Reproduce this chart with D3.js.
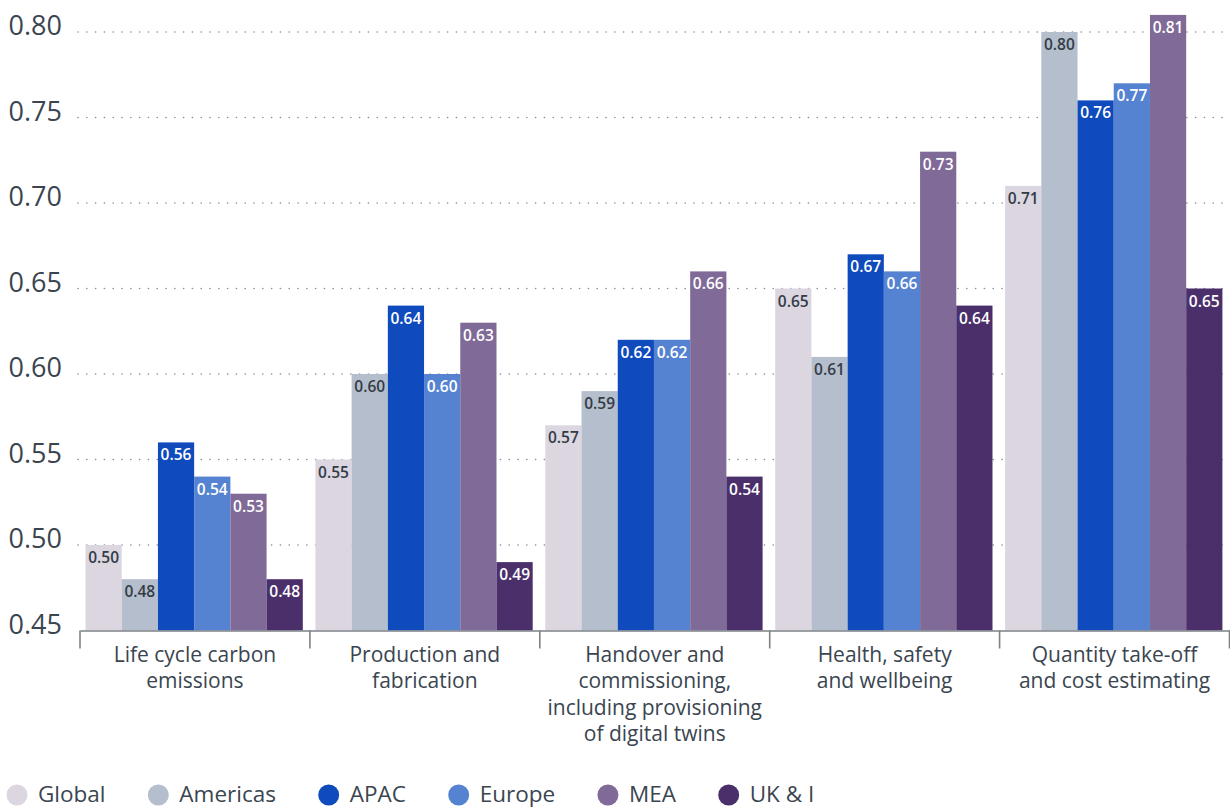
<!DOCTYPE html>
<html>
<head>
<meta charset="utf-8">
<script src="https://cdn.jsdelivr.net/npm/d3@7"></script>
<style>
  html, body { margin: 0; padding: 0; background: #ffffff; }
  svg { display: block; font-family: "Open Sans", "Noto Sans", sans-serif; }
</style>
</head>
<body>
<svg id="chart" width="1230" height="807"></svg>
<script>
// Categories (multi-line labels) and regional series
const categories = [
  ["Life cycle carbon", "emissions"],
  ["Production and", "fabrication"],
  ["Handover and", "commissioning,", "including provisioning", "of digital twins"],
  ["Health, safety", "and wellbeing"],
  ["Quantity take-off", "and cost estimating"]
];
const regions = ["Global", "Americas", "APAC", "Europe", "MEA", "UK & I"];
const globalVals   = [0.50, 0.55, 0.57, 0.65, 0.71];
const americasVals = [0.48, 0.60, 0.59, 0.61, 0.80];
const apacVals     = [0.56, 0.64, 0.62, 0.67, 0.76];
const europeVals   = [0.54, 0.60, 0.62, 0.66, 0.77];
const meaVals      = [0.53, 0.63, 0.66, 0.73, 0.81];
const ukiVals      = [0.48, 0.49, 0.54, 0.64, 0.65];
const yTicks = [0.45, 0.50, 0.55, 0.60, 0.65, 0.70, 0.75, 0.80];

const seriesValues = [globalVals, americasVals, apacVals, europeVals, meaVals, ukiVals];
const colors = ["#dcd6e1", "#b5becd", "#0f4bbd", "#5683d1", "#806b98", "#4b2f6a"];
const labelColors = ["#333c46", "#333c46", "#ffffff", "#ffffff", "#ffffff", "#ffffff"];
const textColor = "#3a4550";

const svg = d3.select("#chart");

const x0 = d3.scaleBand()
  .domain(d3.range(categories.length))
  .range([80, 1229.5])
  .padding(0);

const x1 = d3.scaleBand()
  .domain(d3.range(regions.length))
  .range([5.5, 222.8])
  .padding(0);

const y = d3.scaleLinear()
  .domain([0.45, 0.80])
  .range([630.5, 32]);

// Dotted gridlines
svg.append("g")
  .selectAll("line")
  .data(yTicks.slice(1))
  .join("line")
  .attr("x1", 78)
  .attr("x2", 1230)
  .attr("y1", d => y(d))
  .attr("y2", d => y(d))
  .attr("stroke", "#8a8f96")
  .attr("stroke-width", 1.6)
  .attr("stroke-linecap", "round")
  .attr("stroke-dasharray", "0.1 8.7");

// Y tick labels
svg.append("g")
  .selectAll("text")
  .data(yTicks)
  .join("text")
  .attr("x", 62)
  .attr("y", d => y(d) + 3)
  .attr("text-anchor", "end")
  .attr("font-size", 27)
  .attr("fill", textColor)
  .text(d => d3.format(".2f")(d));

// Bars
const groups = svg.append("g")
  .selectAll("g")
  .data(categories.map((c, i) => i))
  .join("g")
  .attr("transform", i => `translate(${x0(i)},0)`);

const cells = groups.selectAll("g")
  .data(i => seriesValues.map((vals, s) => ({ s, v: vals[i] })))
  .join("g");

cells.append("rect")
  .attr("x", d => x1(d.s))
  .attr("width", x1.bandwidth())
  .attr("y", d => y(d.v))
  .attr("height", d => y(0.45) - y(d.v))
  .attr("fill", d => colors[d.s]);

cells.append("text")
  .attr("x", d => x1(d.s) + x1.bandwidth() / 2)
  .attr("y", d => y(d.v) + 18)
  .attr("text-anchor", "middle")
  .attr("font-size", 15.5)
  .attr("font-weight", 600)
  .attr("fill", d => labelColors[d.s])
  .text(d => d3.format(".2f")(d.v));

// Bottom axis with ticks between categories
const axis = d3.axisBottom(x0)
  .tickValues([])
  .tickSizeOuter(0);
const axisG = svg.append("g")
  .attr("transform", `translate(0,${y(0.45)})`)
  .call(axis);
axisG.select(".domain")
  .attr("stroke", "#7d8288")
  .attr("stroke-width", 1.6);

const boundaries = d3.range(categories.length + 1).map(i =>
  i < categories.length ? x0(i) : x0(categories.length - 1) + x0.bandwidth());
axisG.selectAll(".sep")
  .data(boundaries)
  .join("line")
  .attr("class", "sep")
  .attr("x1", d => d)
  .attr("x2", d => d)
  .attr("y1", 0)
  .attr("y2", 18)
  .attr("stroke", "#7d8288")
  .attr("stroke-width", 1.6);

// Category labels
const catLabels = svg.append("g")
  .selectAll("text")
  .data(categories.map((lines, i) => ({ lines, i })))
  .join("text")
  .attr("x", d => x0(d.i) + x0.bandwidth() / 2)
  .attr("y", 662)
  .attr("text-anchor", "middle")
  .attr("font-size", 21)
  .attr("fill", textColor);
catLabels.selectAll("tspan")
  .data(d => d.lines.map((t, k) => ({ t, k, x: x0(d.i) + x0.bandwidth() / 2 })))
  .join("tspan")
  .attr("x", d => d.x)
  .attr("y", d => 662 + d.k * 26.3)
  .text(d => d.t);

// Legend
const legend = svg.append("g");
let lx = 17;
regions.forEach((name, s) => {
  const item = legend.append("g");
  item.append("circle")
    .attr("cx", lx)
    .attr("cy", 795)
    .attr("r", 10.5)
    .attr("fill", colors[s]);
  const t = item.append("text")
    .attr("x", lx + 21)
    .attr("y", 801.5)
    .attr("font-size", 22.5)
    .attr("fill", textColor)
    .text(name);
  lx += 21 + t.node().getComputedTextLength() + 52.8;
});
</script>
</body>
</html>
